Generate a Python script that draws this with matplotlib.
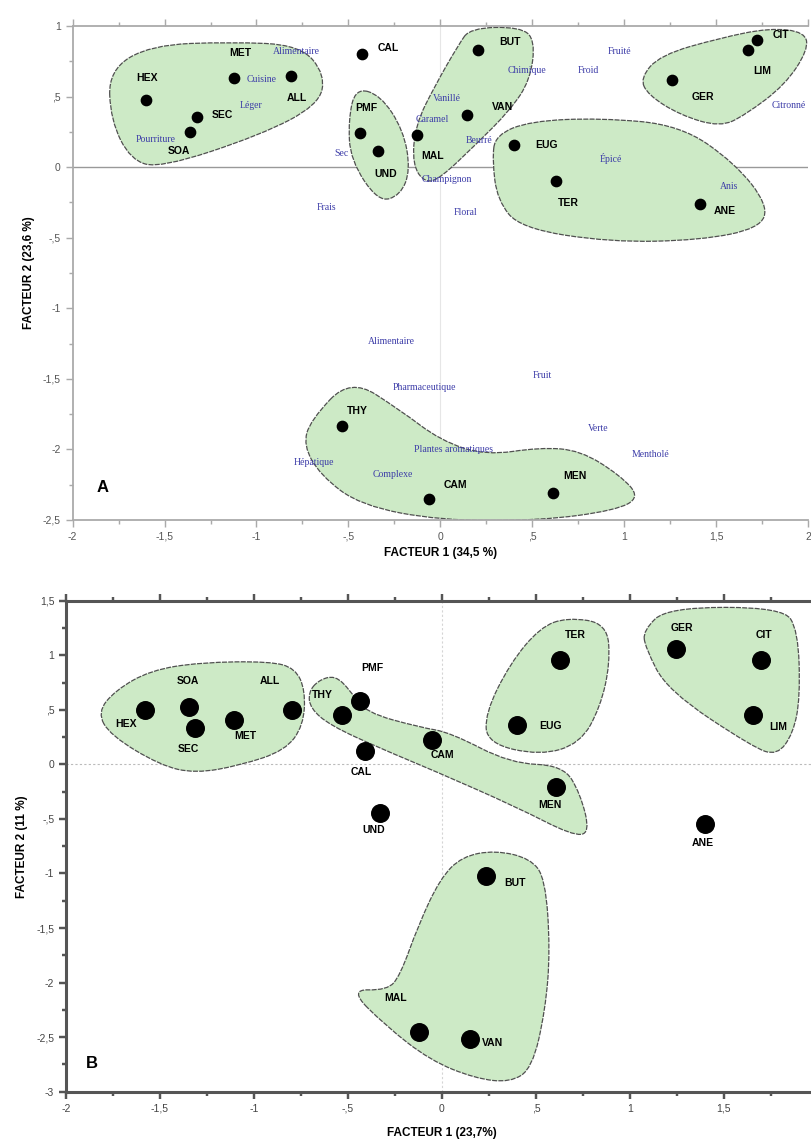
import matplotlib
matplotlib.use("Agg")
import matplotlib.pyplot as plt
from matplotlib.path import Path
from matplotlib.patches import PathPatch
from matplotlib.ticker import MultipleLocator, FuncFormatter

# ---- panel A : products -------------------------------------------------
a_names = ["HEX", "MET", "ALL", "SEC", "SOA", "CAL", "PMF", "UND", "MAL", "BUT",
           "VAN", "EUG", "TER", "ANE", "CIT", "LIM", "GER", "THY", "CAM", "MEN"]
a_x = [-1.60, -1.125, -0.815, -1.326, -1.364, -0.424, -0.435, -0.337, -0.125, 0.207,
       0.147, 0.402, 0.63, 1.413, 1.72, 1.674, 1.26, -0.533, -0.06, 0.614]
a_y = [0.475, 0.63, 0.645, 0.355, 0.248, 0.80, 0.24, 0.113, 0.227, 0.83,
       0.37, 0.156, -0.10, -0.262, 0.90, 0.83, 0.617, -1.837, -2.355, -2.31]

# panel A : descriptors
desc_names = ["Alimentaire", "Cuisine", "Léger", "Pourriture", "Sec", "Frais",
              "Vanillé", "Caramel", "Beurré", "Champignon", "Floral", "Chimique",
              "Froid", "Fruité", "Épicé", "Anis", "Citronné", "Alimentaire",
              "Pharmaceutique", "Fruit", "Plantes aromatiques", "Verte", "Mentholé",
              "Hépatique", "Complexe"]
desc_x = [-0.783, -0.973, -1.027, -1.549, -0.538, -0.62, 0.038, -0.043, 0.212, 0.033,
          0.136, 0.473, 0.804, 0.973, 0.929, 1.571, 1.99, -0.266, -0.087, 0.554,
          0.071, 0.859, 1.141, -0.685, -0.261]
desc_y = [0.816, 0.624, 0.44, 0.199, 0.099, -0.284, 0.489, 0.34, 0.191, -0.085,
          -0.319, 0.681, 0.681, 0.816, 0.064, -0.135, 0.44, -1.234, -1.56, -1.475,
          -2.0, -1.851, -2.035, -2.092, -2.177]

# panel A : group outlines
a_groups = [
    ([-1.804, -1.576, -1.141, -0.761, -0.625, -0.663, -0.978, -1.522, -1.685, -1.793],
     [0.688, 0.865, 0.887, 0.865, 0.652, 0.44, 0.227, -0.007, 0.05, 0.333]),
    ([-0.462, -0.5, -0.489, -0.337, -0.217, -0.163, -0.201, -0.326],
     [0.56, 0.333, 0.05, -0.248, -0.199, -0.021, 0.262, 0.511]),
    ([0.163, 0.435, 0.516, 0.489, 0.38, 0.19, 0.0, -0.082, -0.152, -0.136, -0.027, 0.098],
     [0.986, 0.993, 0.901, 0.617, 0.404, 0.156, -0.078, -0.113, 0.014, 0.298, 0.582, 0.865]),
    ([0.299, 0.489, 0.87, 1.304, 1.603, 1.783, 1.739, 1.413, 0.924, 0.435, 0.31, 0.283],
     [0.227, 0.326, 0.348, 0.298, 0.028, -0.27, -0.433, -0.518, -0.532, -0.433, -0.234, 0.05]),
    ([1.087, 1.196, 1.522, 1.793, 1.984, 2.0, 1.875, 1.658, 1.522, 1.304, 1.13],
     [0.631, 0.794, 0.915, 0.986, 0.957, 0.83, 0.582, 0.369, 0.284, 0.369, 0.511]),
    ([-0.489, -0.217, 0.0, 0.245, 0.543, 0.761, 0.978, 1.087, 0.951, 0.543, 0.0, -0.435,
      -0.652, -0.745, -0.707],
     [-1.496, -1.723, -1.936, -2.043, -1.986, -2.007, -2.184, -2.34, -2.433, -2.504,
      -2.504, -2.397, -2.184, -1.972, -1.794]),
]

# ---- panel B ------------------------------------------------------------
b_names = ["HEX", "SOA", "SEC", "MET", "ALL", "THY", "PMF", "CAL", "UND", "CAM",
           "EUG", "TER", "MEN", "GER", "CIT", "LIM", "ANE", "BUT", "VAN", "MAL"]
b_x = [-1.582, -1.344, -1.312, -1.105, -0.798, -0.529, -0.435, -0.41, -0.328, -0.053,
       0.40, 0.626, 0.606, 1.246, 1.70, 1.657, 1.40, 0.236, 0.15, -0.124]
b_y = [0.495, 0.53, 0.333, 0.41, 0.50, 0.455, 0.58, 0.125, -0.45, 0.22,
       0.364, 0.953, -0.208, 1.06, 0.953, 0.455, -0.55, -1.027, -2.52, -2.45]

b_groups = [
    ([-1.833, -1.738, -1.551, -1.285, -0.913, -0.78, -0.727, -0.737, -0.833, -1.073,
      -1.312, -1.498, -1.764],
     [0.477, 0.678, 0.862, 0.935, 0.944, 0.88, 0.678, 0.357, 0.128, -0.009,
      -0.082, -0.009, 0.266]),
    ([-0.658, -0.568, -0.488, -0.408, -0.115, 0.044, 0.363, 0.645, 0.736, 0.789, 0.693,
      0.401, -0.046, -0.328, -0.594, -0.7, -0.71],
     [0.77, 0.816, 0.678, 0.477, 0.339, 0.293, 0.009, -0.009, -0.266, -0.632, -0.651,
      -0.394, -0.055, 0.147, 0.357, 0.513, 0.66]),
    ([0.667, 0.879, 0.895, 0.842, 0.736, 0.523, 0.241, 0.23, 0.363, 0.523],
     [1.347, 1.292, 0.926, 0.522, 0.192, 0.082, 0.192, 0.467, 0.926, 1.256]),
    ([1.071, 1.199, 1.815, 1.895, 1.906, 1.869, 1.784, 1.656, 1.199, 1.082],
     [1.228, 1.439, 1.439, 1.228, 0.614, 0.284, 0.082, 0.156, 0.678, 1.072]),
    ([-0.493, -0.291, -0.222, -0.126, -0.009, 0.108, 0.284, 0.47, 0.55, 0.576, 0.55,
      0.48, 0.363, 0.177, -0.062, -0.302],
     [-2.062, -2.071, -1.934, -1.476, -1.045, -0.843, -0.788, -0.862, -1.045, -1.705,
      -2.255, -2.786, -2.915, -2.878, -2.713, -2.392]),
]

# label offsets (pixels: right, down)
a_off = [(1, -22), (7, -25), (6, 22), (26, -2), (-11, 19), (26, -6), (6, -25), (7, 23),
         (15, 21), (32, -8), (35, -8), (32, 0), (12, 22), (25, 7), (24, -5), (14, 21),
         (31, 17), (15, -15), (26, -14), (22, -17)]
b_off = [(-19, 14), (-1, -26), (-7, 21), (11, 16), (-22, -29), (-20, -20), (12, -33),
         (-4, 21), (-7, 17), (10, 15), (33, 1), (16, -25), (-6, 18), (6, -21), (3, -25),
         (25, 12), (-2, 19), (29, 7), (22, 4), (-23, -34)]

FILL = "#cdeac6"
EDGE = "#505050"


def smooth_patch(xs, ys):
    pts = list(zip(xs, ys))
    n = len(pts)
    mid = lambda p, q: ((p[0] + q[0]) / 2, (p[1] + q[1]) / 2)
    verts = [mid(pts[-1], pts[0])]
    codes = [Path.MOVETO]
    for i in range(n):
        verts += [pts[i], mid(pts[i], pts[(i + 1) % n])]
        codes += [Path.CURVE3, Path.CURVE3]
    verts.append(verts[0])
    codes.append(Path.CLOSEPOLY)
    return PathPatch(Path(verts, codes), facecolor=FILL, edgecolor=EDGE,
                     lw=0.9, linestyle=(0, (4, 1)), zorder=1)


def fmt(v, pos):
    if abs(v) < 1e-9:
        return "0"
    s = f"{v:g}"
    s = s.replace("0.", ".")
    return s.replace(".", ",")


def fmt_b(v, pos):
    # the "2" of the lower panel falls outside the picture
    if v > 1.9:
        return ""
    return fmt(v, pos)


def style_axes(ax, color, lw, lab_color, xfmt):
    for side in ["left", "top", "bottom"]:
        ax.spines[side].set_color(color)
        ax.spines[side].set_linewidth(lw)
    ax.spines["right"].set_visible(False)
    ax.xaxis.set_major_locator(MultipleLocator(0.5))
    ax.xaxis.set_minor_locator(MultipleLocator(0.25))
    ax.yaxis.set_major_locator(MultipleLocator(0.5))
    ax.yaxis.set_minor_locator(MultipleLocator(0.25))
    ax.xaxis.set_major_formatter(FuncFormatter(xfmt))
    ax.yaxis.set_major_formatter(FuncFormatter(fmt))
    ax.tick_params(which="both", direction="out", color=color, width=lw * 0.8,
                   top=True, labelsize=7.5, labelcolor=lab_color)
    ax.tick_params(which="major", length=5)
    ax.tick_params(which="minor", length=3)


plt.rcParams["font.family"] = ["Liberation Sans", "DejaVu Sans"]
fig = plt.figure(figsize=(8.11, 11.44), dpi=100)

# ---- panel A ----
axA = fig.add_axes([0.0896, 0.5455, 0.9067, 0.4318])
axA.set_xlim(-2, 2)
axA.set_ylim(-2.5, 1)
style_axes(axA, "#aaaaaa", 1.3, "#555555", fmt)
axA.axhline(0, color="#999999", lw=1, zorder=0.5)
axA.axvline(0, color="#e6e6e6", lw=0.8, zorder=0.5)
for gx, gy in a_groups:
    axA.add_patch(smooth_patch(gx, gy))
axA.scatter(a_x, a_y, s=55, color="black", zorder=3)
for name, x, y, (dx, dy) in zip(a_names, a_x, a_y, a_off):
    axA.annotate(name, (x, y), xytext=(dx * 0.72, -dy * 0.72), textcoords="offset points",
                 ha="center", va="center", fontsize=7.5, fontweight="bold", zorder=4)
for name, x, y in zip(desc_names, desc_x, desc_y):
    ha = "right" if x > 1.9 else "center"
    axA.text(x, y, name, ha=ha, va="center", fontsize=7,
             family="Liberation Serif", color="#3c3ca8", zorder=4, clip_on=False)
axA.text(-1.84, -2.27, "A", fontsize=12, fontweight="bold", ha="center", va="center")
axA.set_xlabel("FACTEUR 1 (34,5 %)", fontsize=8.5, fontweight="bold", labelpad=4)
axA.set_ylabel("FACTEUR 2 (23,6 %)", fontsize=8.5, fontweight="bold", labelpad=6)

# ---- panel B ----
axB = fig.add_axes([0.0814, 0.0457, 0.927, 0.4292])
axB.set_xlim(-2, 2)
axB.set_ylim(-3, 1.5)
style_axes(axB, "#555555", 2.2, "#444444", fmt_b)
axB.axhline(0, color="#bbbbbb", lw=0.8, ls=(0, (2, 2)), zorder=0.5)
axB.axvline(0, color="#d5d5d5", lw=0.8, ls=(0, (2, 2)), zorder=0.5)
for gx, gy in b_groups:
    axB.add_patch(smooth_patch(gx, gy))
axB.scatter(b_x, b_y, s=160, color="black", zorder=3)
for name, x, y, (dx, dy) in zip(b_names, b_x, b_y, b_off):
    axB.annotate(name, (x, y), xytext=(dx * 0.72, -dy * 0.72), textcoords="offset points",
                 ha="center", va="center", fontsize=7.5, fontweight="bold", zorder=4)
axB.text(-1.86, -2.74, "B", fontsize=12, fontweight="bold", ha="center", va="center")
axB.set_xlabel("FACTEUR 1 (23,7%)", fontsize=8.5, fontweight="bold", labelpad=10)
axB.set_ylabel("FACTEUR 2 (11 %)", fontsize=8.5, fontweight="bold", labelpad=6)

fig.savefig("out.png", dpi=100)
